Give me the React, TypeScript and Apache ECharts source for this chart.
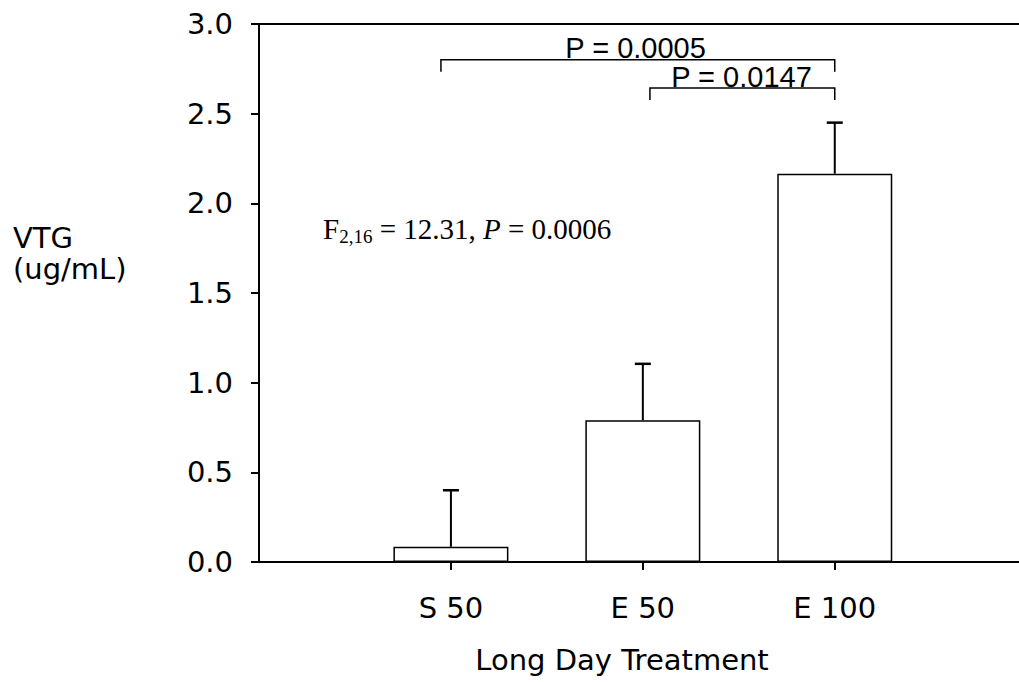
import React, { useEffect, useRef } from 'react';
import * as echarts from 'echarts';

// ---- data ----
const categories = ['S 50', 'E 50', 'E 100'];
const categoryPositions = [1, 2, 3];
const means = [0.085, 0.79, 2.165];
const upperErrors = [0.4, 1.105, 2.45];
const yTickValues = [0, 0.5, 1.0, 1.5, 2.0, 2.5, 3.0];

const bracketStarts = [0.948, 2.037];
const bracketEnds = [3, 3];
const bracketLevels = [2.8, 2.643];
const bracketLabelPositions = [1.962, 2.514];
const bracketLabels = ['P = 0.0005', 'P = 0.0147'];

const yAxisTitle = ['VTG', '(ug/mL)'];
const xAxisTitle = 'Long Day Treatment';

const SANS = 'DejaVu Sans';
const ARIAL = 'Liberation Sans';
const SERIF = 'Liberation Serif';

export default function App() {
  const ref = useRef<HTMLDivElement>(null);

  useEffect(() => {
    if (!ref.current) return;
    const chart = echarts.init(ref.current, undefined, { renderer: 'svg' });

    const barData = categoryPositions.map((p, i) => [p, means[i]]);
    const errData = categoryPositions.map((p, i) => [p, means[i], upperErrors[i]]);
    const bracketData = bracketStarts.map((s, i) => [s, bracketEnds[i], bracketLevels[i], bracketLabelPositions[i]]);

    const option: any = {
      animation: false,
      backgroundColor: '#fff',
      grid: { left: 259, right: 0, top: 24, height: 538 },
      xAxis: [
        {
          type: 'value',
          min: 0,
          max: 3.96,
          position: 'bottom',
          axisLine: { show: true, lineStyle: { color: '#000', width: 2 } },
          axisTick: { show: true, customValues: categoryPositions, length: 8, lineStyle: { color: '#000', width: 2 } },
          axisLabel: {
            show: true,
            customValues: categoryPositions,
            formatter: (v: number) => {
              const i = categoryPositions.indexOf(v);
              return i >= 0 ? categories[i] : '';
            },
            color: '#000',
            fontFamily: SANS,
            fontSize: 29,
            margin: 31,
          },
          splitLine: { show: false },
        },
        {
          type: 'value',
          min: 0,
          max: 3.96,
          position: 'top',
          axisLine: { show: true, lineStyle: { color: '#000', width: 2 } },
          axisTick: { show: false },
          axisLabel: { show: false },
          splitLine: { show: false },
        },
      ],
      yAxis: {
        type: 'value',
        min: 0,
        max: 3,
        interval: 0.5,
        axisLine: { show: true, lineStyle: { color: '#000', width: 2 } },
        axisTick: { show: true, length: 8, lineStyle: { color: '#000', width: 2 } },
        axisLabel: {
          color: '#000',
          fontFamily: SANS,
          fontSize: 29,
          margin: 26,
          formatter: (v: number) => (yTickValues.indexOf(v) >= 0 ? v.toFixed(1) : ''),
        },
        splitLine: { show: false },
      },
      series: [
        {
          type: 'bar',
          data: barData,
          barWidth: 115,
          itemStyle: { color: '#fff', borderColor: '#000', borderWidth: 1.5 },
          z: 2,
        },
        {
          type: 'custom',
          data: errData,
          z: 3,
          renderItem: (params: any, api: any) => {
            const x = api.value(0);
            const p0 = api.coord([x, api.value(1)]);
            const p1 = api.coord([x, api.value(2)]);
            return {
              type: 'group',
              children: [
                { type: 'line', shape: { x1: p0[0], y1: p0[1], x2: p1[0], y2: p1[1] }, style: { stroke: '#000', lineWidth: 2 } },
                { type: 'line', shape: { x1: p1[0] - 8, y1: p1[1], x2: p1[0] + 8, y2: p1[1] }, style: { stroke: '#000', lineWidth: 2.5 } },
              ],
            };
          },
        },
        {
          type: 'custom',
          data: bracketData,
          z: 4,
          renderItem: (params: any, api: any) => {
            const a = api.coord([api.value(0), api.value(2)]);
            const b = api.coord([api.value(1), api.value(2)]);
            const c = api.coord([api.value(3), api.value(2)]);
            const drop = 12;
            return {
              type: 'group',
              children: [
                {
                  type: 'polyline',
                  shape: { points: [[a[0], a[1] + drop], [a[0], a[1]], [b[0], b[1]], [b[0], b[1] + drop]] },
                  style: { stroke: '#000', lineWidth: 1.5, fill: 'none' },
                },
                {
                  type: 'text',
                  x: c[0],
                  y: c[1] + 3,
                  style: {
                    text: bracketLabels[params.dataIndex],
                    fill: '#000',
                    fontFamily: ARIAL,
                    fontSize: 29,
                    align: 'center',
                    verticalAlign: 'bottom',
                  },
                },
              ],
            };
          },
        },
      ],
      graphic: [
        {
          type: 'text',
          x: 13,
          y: 238,
          style: { text: yAxisTitle[0], fill: '#000', fontFamily: SANS, fontSize: 29, align: 'left', verticalAlign: 'middle' },
        },
        {
          type: 'text',
          x: 13,
          y: 269,
          style: { text: yAxisTitle[1], fill: '#000', fontFamily: SANS, fontSize: 29, align: 'left', verticalAlign: 'middle' },
        },
        {
          type: 'text',
          x: 622,
          y: 660,
          style: { text: xAxisTitle, fill: '#000', fontFamily: SANS, fontSize: 29, align: 'center', verticalAlign: 'middle' },
        },
        {
          type: 'text',
          x: 323,
          y: 246,
          style: {
            text: '{n|F}{s|2,16}{n| = 12.31, }{i|P}{n| = 0.0006}',
            align: 'left',
            verticalAlign: 'bottom',
            rich: {
              n: { fontFamily: SERIF, fontSize: 29, lineHeight: 29, padding: [0, 0, 3, 0], verticalAlign: 'bottom', color: '#000' },
              i: { fontFamily: SERIF, fontSize: 29, fontStyle: 'italic', lineHeight: 29, padding: [0, 0, 3, 0], verticalAlign: 'bottom', color: '#000' },
              s: { fontFamily: SERIF, fontSize: 19, lineHeight: 19, verticalAlign: 'bottom', color: '#000' },
            },
          },
        },
      ],
    };

    chart.setOption(option);
    return () => chart.dispose();
  }, []);

  return <div ref={ref} style={{ position: 'fixed', left: 0, top: 0, width: 1019, height: 682, background: '#fff' }} />;
}
